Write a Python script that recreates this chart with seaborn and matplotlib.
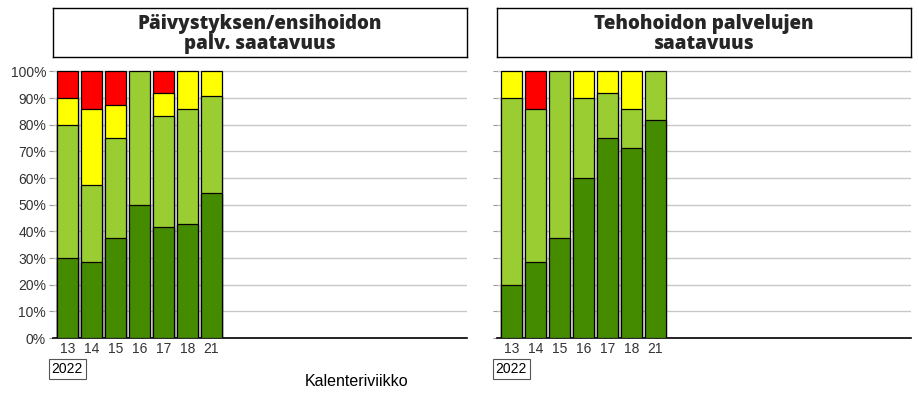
import numpy as np
import pandas as pd
import matplotlib
matplotlib.use("Agg")
import matplotlib.pyplot as plt
import seaborn as sns

weeks = ["13", "14", "15", "16", "17", "18", "21"]
year_label = "2022"

# percent shares per week, bottom to top
left_dark = [30.0, 28.6, 37.5, 50.0, 41.7, 42.9, 54.5]
left_light = [50.0, 28.6, 37.5, 50.0, 41.7, 42.9, 36.4]
left_yellow = [10.0, 28.6, 12.5, 0.0, 8.3, 14.2, 9.1]
left_red = [10.0, 14.2, 12.5, 0.0, 8.3, 0.0, 0.0]

right_dark = [20.0, 28.6, 37.5, 60.0, 75.0, 71.4, 81.8]
right_light = [70.0, 57.1, 62.5, 30.0, 16.7, 14.3, 18.2]
right_yellow = [10.0, 0.0, 0.0, 10.0, 8.3, 14.3, 0.0]
right_red = [0.0, 14.3, 0.0, 0.0, 0.0, 0.0, 0.0]

titles = ["Päivystyksen/ensihoidon\npalv. saatavuus",
          "Tehohoidon palvelujen\nsaatavuus"]
colors = ["#458b00", "#9acd32", "#ffff00", "#ff0000"]

sns.set_style("white")
plt.rcParams['font.family'] = ['Liberation Sans', 'DejaVu Sans']

fig = plt.figure(figsize=(9.2, 4), dpi=100)

panels = [
    (53, [left_dark, left_light, left_yellow, left_red]),
    (497, [right_dark, right_light, right_yellow, right_red]),
]

for i, (x0, layers) in enumerate(panels):
    ax = fig.add_axes([x0 / 920, 62 / 400, 414 / 920, 268 / 400])
    df = pd.DataFrame(np.array(layers).T, columns=["d", "l", "y", "r"])
    df["week"] = weeks
    cum = df[["d", "l", "y", "r"]].cumsum(axis=1)
    # draw cumulative layers from the top down so lower ones overlap
    for col, c in zip(["r", "y", "l", "d"], colors[::-1]):
        h = cum[col].where(df[col] > 0, np.nan)
        sns.barplot(x=df["week"], y=h, color=c, saturation=1, width=0.87,
                    edgecolor="black", linewidth=0.9, ax=ax, zorder=3)
    ax.set_xlim(-0.6, 16.65)
    ax.set_ylim(0, 100.5)
    ax.set_yticks(np.arange(0, 101, 10))
    ax.yaxis.grid(True, color="#c8c8c8", linewidth=1, zorder=0)
    ax.set_axisbelow(True)
    for s in ["top", "right", "left"]:
        ax.spines[s].set_visible(False)
    ax.spines["bottom"].set_color("black")
    ax.spines["bottom"].set_linewidth(1.2)
    ax.set_xlabel("")
    ax.set_ylabel("")
    ax.tick_params(axis="x", length=0, labelsize=10, labelcolor="#333333", pad=3)
    ax.tick_params(axis="y", left=True, length=3, color="#999999",
                   labelsize=10, labelcolor="#333333", pad=2)
    if i == 0:
        ax.set_yticklabels([f"{v}%" for v in range(0, 101, 10)])
    else:
        ax.set_yticklabels([])
    ax.text(0, -0.115, year_label, transform=ax.get_xaxis_transform(),
            ha="center", va="center", fontsize=10, color="black",
            bbox=dict(boxstyle="square,pad=0.2", fc="white", ec="#555555", lw=0.8))

    tax = fig.add_axes([x0 / 920, 343 / 400, 414 / 920, 49 / 400])
    tax.set_xticks([])
    tax.set_yticks([])
    for s in tax.spines.values():
        s.set_color("black")
        s.set_linewidth(1)
    tax.text(0.5, 0.47, titles[i], ha="center", va="center", fontsize=13.5,
             fontweight=800, family="Open Sans",
             linespacing=1.05, transform=tax.transAxes)

fig.text(357 / 920, 18 / 400, "Kalenteriviikko", ha="center", va="center",
         fontsize=11.5, color="black")

fig.savefig("out.png", dpi=100)
